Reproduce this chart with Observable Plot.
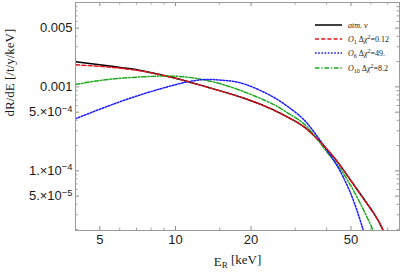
<!DOCTYPE html>
<html><head><meta charset="utf-8">
<script src="https://cdn.jsdelivr.net/npm/d3@7"></script>
<script src="https://cdn.jsdelivr.net/npm/@observablehq/plot@0.6"></script>
<style>
body{margin:0;background:#fff;}
#wrap{position:relative;width:404px;height:273px;}
#legend{position:absolute;left:0;top:0;font-family:"Liberation Serif","DejaVu Serif",serif;font-size:8px;color:#222;}
#legend .row{position:absolute;left:315px;height:10px;display:flex;align-items:center;white-space:nowrap;}
#legend .row svg{margin-right:5px;}
#legend sub{font-size:6px;vertical-align:-2px;line-height:0;}
#legend sup{font-size:6px;vertical-align:3px;line-height:0;}
</style></head><body><div id="wrap"><div id="legend"></div></div>
<script>
// ---- data ----
const atmE    = [4, 5.38, 6.29, 7.35, 10, 13.46, 18.9, 24.45, 28.5, 33.4, 40.1, 45.2, 52.8, 61.2, 66.5, 71.5];
const atmRate = [1.985e-3, 1.788e-3, 1.674e-3, 1.555e-3, 1.269e-3, 9.89e-4, 7.28e-4, 5.35e-4, 4.24e-4, 3.135e-4, 1.813e-4, 1.169e-4, 6.05e-5, 3.22e-5, 2.08e-5, 1.2e-5];
const o1E     = [4, 5.38, 6.29, 7.35, 10, 13.46, 18.9, 24.45, 28.5, 33.4, 40.1, 45.2, 52.8, 61.2, 66.5, 71.5];
const o1Rate  = [1.83e-3, 1.726e-3, 1.64e-3, 1.54e-3, 1.265e-3, 9.87e-4, 7.27e-4, 5.34e-4, 4.23e-4, 3.13e-4, 1.81e-4, 1.168e-4, 6.05e-5, 3.23e-5, 2.09e-5, 1.2e-5];
const o6E     = [4, 5.38, 7.35, 10, 11.63, 13.46, 15.74, 18.9, 24.45, 28.5, 33.4, 40.1, 45.2, 50.9, 55.8, 58.4];
const o6Rate  = [4.18e-4, 5.89e-4, 8.14e-4, 1.062e-3, 1.175e-3, 1.225e-3, 1.192e-3, 1.077e-3, 7.6e-4, 5.6e-4, 3.7e-4, 1.76e-4, 1.0e-4, 4.6e-5, 2.02e-5, 1.3e-5];
const o10E    = [4, 5.38, 7.35, 10, 13.46, 18.05, 24.45, 28.5, 33.4, 40.1, 45.2, 52.8, 61.2, 64];
const o10Rate = [1.068e-3, 1.225e-3, 1.315e-3, 1.34e-3, 1.185e-3, 9.13e-4, 6.22e-4, 4.73e-4, 3.34e-4, 1.68e-4, 1.07e-4, 4.9e-5, 1.97e-5, 1.44e-5];

const xTicks = [5, 10, 20, 50];
const xTickLabels = ["5", "10", "20", "50"];
const xMinor = [6, 7, 8, 9, 15, 30, 40, 60, 70];
const yTicks = [0.005, 0.001, 5e-4, 1e-4, 5e-5];
const yTickLabels = ["0.005", "0.001", "5.\u00d710^\u22124", "1.\u00d710^\u22124", "5.\u00d710^\u22125"];
const yMinor = [2e-5,3e-5,4e-5,6e-5,7e-5,8e-5,9e-5,2e-4,3e-4,4e-4,6e-4,7e-4,8e-4,9e-4,2e-3,3e-3,4e-3,6e-3,7e-3,8e-3,9e-3];

const seriesNames = ["atm. \u03bd", "O1", "O6", "O10"];
const seriesColors = ["#000000", "#e0141e", "#1a1aff", "#1fa81f"];
const seriesDash = [null, "4,2.2", "1.6,1.6", "4.5,1.8,1.4,1.8"];
const legendHTML = [
  "<i>atm. \u03bd</i>",
  "<i>O</i><sub>1</sub> \u0394<i>\u03c7</i><sup>2</sup>=0.12",
  "<i>O</i><sub>6</sub> \u0394<i>\u03c7</i><sup>2</sup>=49.",
  "<i>O</i><sub>10</sub> \u0394<i>\u03c7</i><sup>2</sup>=8.2"
];

// ---- layout ----
const W = 404, H = 273, mL = 75, mR = 5, mT = 2, mB = 43;
const fw = W - mL - mR, fh = H - mT - mB;
const rows = (E, R) => E.map((e, i) => ({E: e, R: R[i]}));
const seriesData = [rows(atmE, atmRate), rows(o1E, o1Rate), rows(o6E, o6Rate), rows(o10E, o10Rate)];
const tickColor = "#8a8a8a";
const lab = "#1a1a1a";

const lineMarks = seriesData.map((d, i) => Plot.line(d, {
  x: "E", y: "R", curve: "natural", clip: true,
  stroke: seriesColors[i], strokeWidth: 1.5,
  strokeDasharray: seriesDash[i]
}));
const ordered = [lineMarks[0], lineMarks[3], lineMarks[2], lineMarks[1]];

const chart = Plot.plot({
  width: W, height: H,
  marginLeft: mL, marginRight: mR, marginTop: mT, marginBottom: mB,
  style: {fontFamily: "'Liberation Sans', Arial, sans-serif", fontSize: "13px", color: lab, background: "white"},
  x: {type: "log", domain: [4, 78], axis: null},
  y: {type: "log", domain: [1.95e-5, 0.0101], axis: null},
  marks: [
    Plot.text(xTicks, {x: d => d, frameAnchor: "bottom", dy: 13, text: (d, i) => xTickLabels[i], fontSize: 13, fill: lab}),
    Plot.text(yTicks, {y: d => d, frameAnchor: "left", dx: -3, textAnchor: "end", text: (d, i) => yTickLabels[i], fontSize: 13, fill: lab}),
    Plot.tickX(xTicks, {x: d => d, insetTop: fh - 4, stroke: tickColor}),
    Plot.tickX(xTicks, {x: d => d, insetBottom: fh - 4, stroke: tickColor}),
    Plot.tickX(xMinor, {x: d => d, insetTop: fh - 2.5, stroke: tickColor, strokeOpacity: 0.8}),
    Plot.tickX(xMinor, {x: d => d, insetBottom: fh - 2.5, stroke: tickColor, strokeOpacity: 0.8}),
    Plot.tickY(yTicks, {y: d => d, insetRight: fw - 4, stroke: tickColor}),
    Plot.tickY(yTicks, {y: d => d, insetLeft: fw - 4, stroke: tickColor}),
    Plot.tickY(yMinor, {y: d => d, insetRight: fw - 2.5, stroke: tickColor, strokeOpacity: 0.8}),
    Plot.tickY(yMinor, {y: d => d, insetLeft: fw - 2.5, stroke: tickColor, strokeOpacity: 0.8}),
    ...ordered,
    Plot.frame({stroke: "#9a9a9a"}),
    Plot.text(["E_R [keV]"], {frameAnchor: "bottom", dy: 35, fontFamily: "'Liberation Serif', serif", fontSize: 13, fill: lab}),
    Plot.text(["dR/dE [/t/y/keV]"], {frameAnchor: "left", dx: -66, rotate: -90, fontFamily: "'Liberation Serif', serif", fontSize: 13, fill: lab})
  ]
});

d3.select(chart).selectAll("text").each(function() {
  const t = this.textContent;
  if (t.includes("^")) {
    const [base, ex] = t.split("^");
    const sel = d3.select(this);
    sel.text(base);
    sel.append("tspan").attr("dy", "-0.5em").attr("font-size", "0.72em").text(ex);
  } else if (t === "E_R [keV]") {
    const sel = d3.select(this);
    sel.text("E");
    sel.append("tspan").attr("dy", "0.3em").attr("font-size", "0.7em").text("R");
    sel.append("tspan").attr("dy", "-0.3em").text(" [keV]");
  }
});

document.getElementById("wrap").prepend(chart);

const leg = document.getElementById("legend");
const rowY = [20, 34, 48, 63];
seriesNames.forEach((n, i) => {
  const r = document.createElement("div");
  r.className = "row";
  r.style.top = rowY[i] + "px";
  r.innerHTML = `<svg width="28" height="6"><line x1="0" y1="3" x2="27" y2="3" stroke="${seriesColors[i]}" stroke-width="1.5" ${seriesDash[i] ? `stroke-dasharray="${seriesDash[i]}"` : ""}/></svg><span>${legendHTML[i]}</span>`;
  leg.appendChild(r);
});
</script></body></html>
